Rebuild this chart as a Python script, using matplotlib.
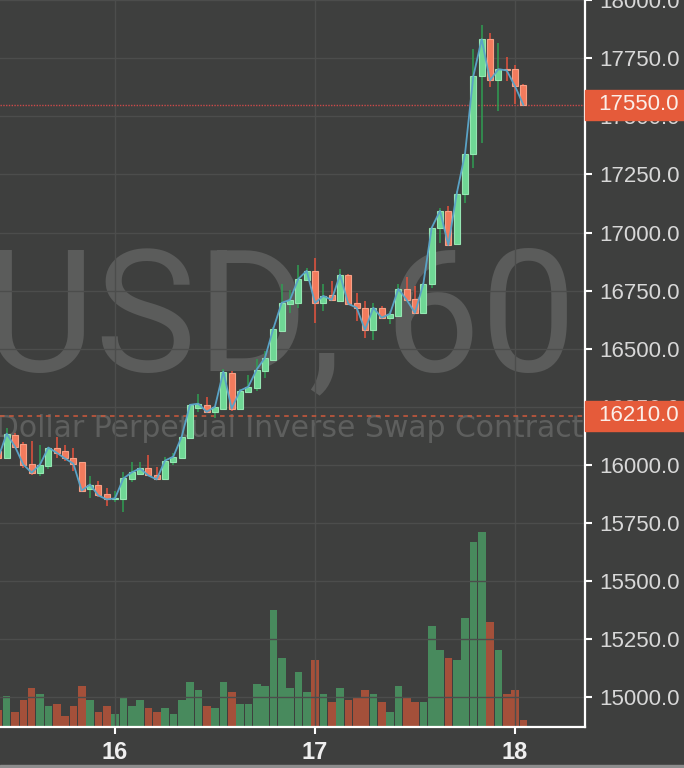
import matplotlib
matplotlib.use('Agg')
import matplotlib.pyplot as plt
import matplotlib.transforms as mtransforms
from matplotlib.patches import Rectangle
import numpy as np

# hourly candles, hours counted from day 16 00:00
hours = list(range(-14, 50))
opens = [16061, 16031, 16130, 16091, 16005, 15966, 15993, 16074, 16061, 16031,
         16010, 15894, 15915, 15872, 15851, 15851, 15937, 15962, 15984, 15958,
         15937, 16010, 16027, 16117, 16245, 16258, 16228, 16242, 16396, 16242,
         16315, 16332, 16405, 16453, 16577, 16693, 16697, 16796, 16835, 16697,
         16732, 16706, 16818, 16697, 16676, 16581, 16676, 16633, 16641, 16757,
         16714, 16654, 16779, 17020, 17093, 16951, 17166, 17338, 17673, 17832,
         17655, 17703, 17703, 17634]
highs = [16065, 16160, 16138, 16100, 16104, 16087, 16078, 16121, 16087, 16074,
         16014, 15950, 15932, 15898, 15889, 15967, 16010, 16014, 16044, 15992,
         16035, 16052, 16125, 16262, 16306, 16293, 16254, 16414, 16405, 16325,
         16388, 16457, 16491, 16594, 16779, 16753, 16861, 16848, 16891, 16779,
         16792, 16843, 16822, 16740, 16706, 16697, 16684, 16663, 16779, 16809,
         16770, 16783, 17025, 17105, 17114, 17179, 17342, 17789, 17892, 17857,
         17814, 17754, 17720, 17640]
lows = [16025, 16027, 16074, 15984, 15958, 15950, 15980, 16027, 16018, 15975,
        15881, 15855, 15860, 15821, 15838, 15795, 15924, 15958, 15950, 15933,
        15937, 15997, 16023, 16113, 16228, 16225, 16203, 16240, 16233, 16240,
        16311, 16319, 16375, 16449, 16575, 16654, 16676, 16792, 16611, 16663,
        16706, 16704, 16689, 16620, 16547, 16538, 16629, 16607, 16637, 16706,
        16650, 16650, 16762, 16955, 16942, 16946, 17127, 17277, 17385, 17625,
        17522, 17651, 17552, 17548]
closes = [16031, 16134, 16078, 16001, 15966, 16001, 16074, 16052, 16027, 16005,
          15889, 15915, 15868, 15851, 15855, 15941, 15967, 15984, 15954, 15937,
          16018, 16035, 16121, 16258, 16263, 16228, 16250, 16401, 16242, 16319,
          16336, 16410, 16461, 16586, 16697, 16710, 16800, 16835, 16697, 16727,
          16710, 16818, 16693, 16676, 16581, 16676, 16633, 16650, 16757, 16710,
          16654, 16779, 17020, 17093, 16946, 17166, 17338, 17673, 17832, 17655,
          17703, 17698, 17630, 17550]
volumes = [8.5, 15.5, 7.5, 13.5, 19.5, 16.5, 10.5, 11.5, 5.5, 10.5,
           20.5, 13.5, 7.5, 10.5, 6.5, 14.5, 10.5, 13.5, 9.5, 7.5,
           9.5, 6.5, 13.5, 22.5, 18.5, 10.5, 9.5, 22.5, 17.5, 11.5,
           11.5, 21.5, 20.5, 58.5, 34.5, 19.5, 27.5, 17.5, 33.5, 16.5,
           12.5, 19.5, 13.5, 14.5, 18.5, 16.5, 12.5, 7.5, 20.5, 14.5,
           12.5, 12.5, 50.5, 38.5, 34.5, 33.5, 54.5, 92.5, 97.5, 52.5,
           38.5, 16.5, 18.5, 3.5]

day_ticks = [0, 24, 48]
day_labels = ['16', '17', '18']
price_ticks = [15000, 15250, 15500, 15750, 16000, 16250, 16500,
               16750, 17000, 17250, 17500, 17750, 18000]
last_price = 17550.0
ref_price = 16210.0

bg = '#3e3f3e'
grid_col = '#4c4d4c'
up_body = '#6fd795'
up_edge = '#95e6b2'
up_wick = '#2f9e52'
dn_body = '#f27b5d'
dn_edge = '#f7a086'
dn_wick = '#e6523d'
label_col = '#e55b3a'

fig = plt.figure(figsize=(6.84, 7.68), dpi=100, facecolor=bg)
rect = [0, 41 / 768, 585 / 684, 727 / 768]

# volume panel underneath
axv = fig.add_axes(rect)
axv.set_facecolor(bg)
vcols = ['#488a5d' if c >= o else '#a4503a' for o, c in zip(opens, closes)]
axv.bar(hours, volumes, width=0.92, color=vcols, edgecolor='none')
axv.set_ylim(0, 363.5)
axv.set_xlim(-13.8, 56.4)
axv.axis('off')

ax = fig.add_axes(rect)
ax.patch.set_alpha(0)
ax.set_xlim(-13.8, 56.4)
ax.set_ylim(14871, 18001)

ax.grid(True, color=grid_col, lw=1)
ax.set_axisbelow(True)

# watermark
ax.text(0.985, 0.491, 'XBTUSD, 60', transform=ax.transAxes, ha='right',
        va='baseline', fontsize=123, color='#5b5c5b', family='Roboto', zorder=0.5)
ax.text(0.997, 0.399, 'Bitcoin / US Dollar Perpetual Inverse Swap Contract',
        transform=ax.transAxes, ha='right', va='baseline', fontsize=21.5,
        color='#5e5f5e', family='DejaVu Sans', zorder=0.5)

# candles
o = np.array(opens)
c = np.array(closes)
up = c >= o
wick_cols = [up_wick if u else dn_wick for u in up]
ax.vlines(hours, lows, highs, colors=wick_cols, lw=1.1, zorder=3)
bottoms = np.minimum(o, c)
heights = np.maximum(np.abs(c - o), 5)
ax.bar(hours, heights, bottom=bottoms, width=0.72,
       color=[up_body if u else dn_body for u in up],
       edgecolor=[up_edge if u else dn_edge for u in up], lw=0.8, zorder=4)
ax.plot(hours, closes, color='#5aa3c6', lw=1.3, zorder=5)

# price lines
ax.axhline(last_price, color='#cc4a4a', lw=1, ls=(0, (1, 1)), zorder=2)
ax.axhline(ref_price, color='#cf5a3c', lw=1.1, ls=(0, (3, 3)), zorder=2)

# axes styling
ax.yaxis.tick_right()
ax.set_yticks(price_ticks)
ax.set_yticklabels(['%.1f' % p for p in price_ticks])
ax.set_xticks(day_ticks)
ax.set_xticklabels(day_labels)
ax.tick_params(axis='y', colors='white', labelcolor='#d8d8d8', length=5,
               width=1.5, pad=5, labelsize=16)
ax.tick_params(axis='x', colors='white', labelcolor='#efefef', length=5,
               width=1.5, pad=5, labelsize=17)
for t in ax.get_yticklabels():
    t.set_family('Liberation Sans')
for t in ax.get_xticklabels():
    t.set_family('Liberation Sans')
    t.set_weight('bold')
for s in ['top', 'left']:
    ax.spines[s].set_visible(False)
for s in ['right', 'bottom']:
    ax.spines[s].set_color('white')
    ax.spines[s].set_linewidth(1.6)

# price labels on the right scale
trans = mtransforms.blended_transform_factory(ax.transAxes, ax.transData)
half = 15 * (18001 - 14871) / 727
for p in [last_price, ref_price]:
    ax.add_patch(Rectangle((1.0, p - half), 0.2, 2 * half, transform=trans,
                           color=label_col, clip_on=False, zorder=6))
    ax.text(1.022, p, '%.1f' % p, transform=trans, va='center', ha='left',
            color='#fbeee8', fontsize=16, family='Liberation Sans', zorder=7,
            clip_on=False)

fig.patches.append(Rectangle((0, 0), 1, 3 / 768, transform=fig.transFigure,
                             color='#8d8d8d', zorder=0))

fig.savefig('out.png', dpi=100, facecolor=bg)
